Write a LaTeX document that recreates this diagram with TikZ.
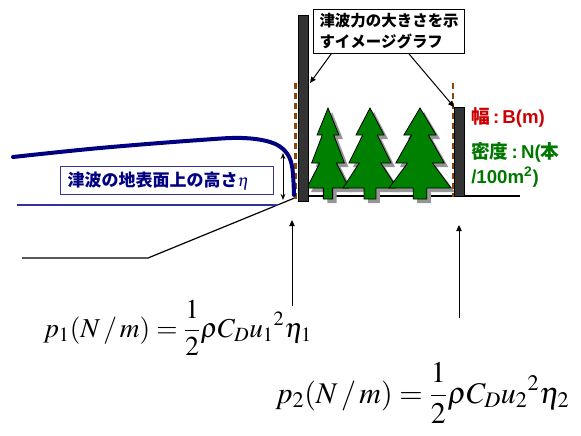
\documentclass[tikz,border=0pt]{standalone}
\usepackage{mathptmx}
\usepackage[no-math]{fontspec}
\newfontfamily\jpfont{Noto Sans CJK JP}
\newfontfamily\lsans{Liberation Sans}
\usetikzlibrary{arrows.meta,calc}

\definecolor{tsunavy}{RGB}{0,0,128}
\definecolor{boxblue}{RGB}{51,51,153}
\definecolor{pillargray}{RGB}{51,51,51}
\definecolor{polebrown}{RGB}{140,70,10}
\definecolor{treegreen}{RGB}{0,128,0}
\definecolor{shadegray}{RGB}{150,150,150}
\definecolor{labelred}{RGB}{204,0,0}
\definecolor{labelgreen}{RGB}{0,120,0}

% a fir tree with drop shadow: #1 = centre x, #2 = half width of the lowest tier
\newcommand\firtree[2]{%
  \begin{scope}[shift={(4,4)}]
    \fill[shadegray] (#1,108) -- ({#1+0.52*#2},135) -- ({#1+0.27*#2},135)
      -- ({#1+0.78*#2},163) -- ({#1+0.4*#2},163) -- ({#1+#2},188)
      -- ({#1+0.22*#2},188) -- ({#1+0.22*#2},199) -- ({#1-0.22*#2},199)
      -- ({#1-0.22*#2},188) -- ({#1-#2},188) -- ({#1-0.4*#2},163)
      -- ({#1-0.78*#2},163) -- ({#1-0.27*#2},135) -- ({#1-0.52*#2},135) -- cycle;
  \end{scope}
  \filldraw[firfill] (#1,108) -- ({#1+0.52*#2},135) -- ({#1+0.27*#2},135)
      -- ({#1+0.78*#2},163) -- ({#1+0.4*#2},163) -- ({#1+#2},188)
      -- ({#1+0.22*#2},188) -- ({#1+0.22*#2},199) -- ({#1-0.22*#2},199)
      -- ({#1-0.22*#2},188) -- ({#1-#2},188) -- ({#1-0.4*#2},163)
      -- ({#1-0.78*#2},163) -- ({#1-0.27*#2},135) -- ({#1-0.52*#2},135) -- cycle;
}

\tikzset{
  pillar/.style={draw=black, fill=pillargray, line width=0.75pt, inner sep=0pt,
    minimum width=7.5pt, anchor=north west},
  poleline/.style={polebrown, line width=1.8pt, dash pattern=on 4.5pt off 3pt},
  firfill/.style={fill=treegreen, draw=black, line width=0.6pt, line join=miter},
  pointer/.style={black, line width=0.75pt, -{Triangle[length=4.5pt,width=4pt]}},
  jplabel/.style={font=\jpfont\bfseries\fontsize{12.75}{16}\selectfont},
  sidelabel/.style={anchor=west, inner sep=0pt, align=left,
    font=\lsans\bfseries\fontsize{14}{18.75}\selectfont},
  formula/.style={inner sep=0pt, anchor=base west},
}

\begin{document}
\begin{tikzpicture}[x=0.75pt, y=-0.75pt]
\useasboundingbox (0,0) rectangle (581,435);

% ground profile and still-water line
\draw[black, line width=0.9pt] (22,258) -- (148,258) -- (297,197);
\draw[black, line width=0.9pt] (308,196) -- (520,196);
\draw[boxblue, line width=0.9pt] (17,205) -- (278,205);

% measuring poles (dashed)
\draw[poleline] (295.5,83) -- (295.5,200);
\draw[poleline] (453,83) -- (453,197);

% tsunami surface
\draw[tsunavy, line width=3pt, line cap=round] plot[smooth, tension=0.6] coordinates
  {(13,157) (100,148) (200,140) (242,138) (270,142) (285,151) (292,166) (294,195)};

% height arrow
\draw[black, line width=0.75pt, {Stealth[length=4.5pt,width=3.5pt]}-{Stealth[length=4.5pt,width=3.5pt]}]
  (283,153) -- (283,200);

% trees
\firtree{328}{21}
\firtree{370}{27}
\firtree{420}{31}

% force-image bars
\node[pillar, minimum height=139.5pt] (lpillar) at (298,15) {};
\node[pillar, minimum height=66.75pt] (rpillar) at (454,107) {};

% labels
\node[draw=black, line width=0.75pt, anchor=north west, align=left,
  inner xsep=4.5pt, inner ysep=3pt, font=\jpfont\bfseries\fontsize{11.6}{15.75}\selectfont]
  (tbox) at (313,9) {津波力の大きさを示\\すイメージグラフ};

\node[jplabel, text=tsunavy, draw=boxblue, line width=0.9pt, anchor=north west,
  align=left, text width=149pt, inner xsep=5.25pt, inner ysep=0pt, minimum height=21pt]
  (hlabel) at (60,166) {津波の地表面上の高さ$\eta$};

\node[sidelabel, text=labelred] (wlabel) at (471,117)
  {{\jpfont 幅}\,:\,B(m)};
\node[sidelabel, text=labelgreen] (dlabel) at (471,164.5)
  {{\jpfont 密度}\,:\,N({\jpfont 本}\\/100m\textsuperscript{2})};

% pointers from the caption box to the bars
\coordinate (ltail) at ($(tbox.south west)!0.12!(tbox.south east)$);
\coordinate (ltip) at ($(lpillar.north east)+(1,68)$);
\coordinate (rtail) at ($(tbox.south west)!0.63!(tbox.south east)$);
\draw[pointer] (ltail) -- (ltip);
\draw[pointer] (rtail) -- (rpillar.north west);

% force arrows
\coordinate (f1tail) at (292,306);
\coordinate (f1tip) at (292,220);
\coordinate (f2tail) at (459,318);
\coordinate (f2tip) at (459,225);
\draw[pointer] (f1tail) -- (f1tip);
\draw[pointer] (f2tail) -- (f2tip);

% formulas
\node[formula, font=\fontsize{20.5}{24}\selectfont] (p1) at (43,337)
  {$\displaystyle p_1(N\,/\,m)=\frac{1}{2}\rho C_D u_1{}^2\eta_1$};
\node[formula, font=\fontsize{22.5}{26}\selectfont] (p2) at (275,403)
  {$\displaystyle p_2(N\,/\,m)=\frac{1}{2}\rho C_D u_2{}^2\eta_2$};
\end{tikzpicture}
\end{document}
